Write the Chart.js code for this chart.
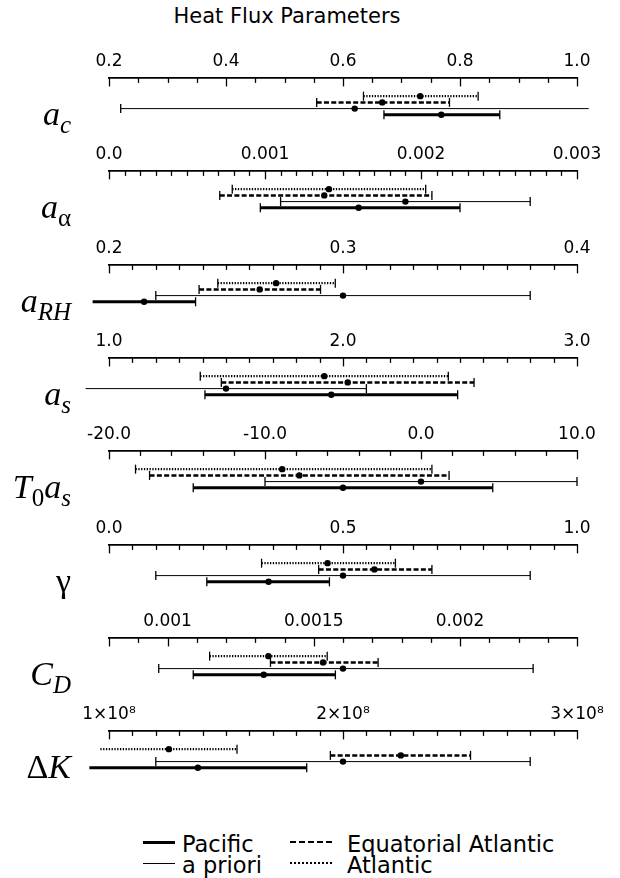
<!DOCTYPE html>
<html>
<head>
<meta charset="utf-8">
<script src="https://cdn.jsdelivr.net/npm/chart.js@4.4.1/dist/chart.umd.min.js"></script>
<style>
  body { margin: 0; background: #fff; }
  #wrap { position: relative; width: 620px; height: 878px; overflow: hidden; }
  #wrap canvas { position: absolute; left: 0; }
  .title { position: absolute; left: 137px; top: 4px; width: 300px; text-align: center;
           font: 21px "DejaVu Sans", sans-serif; white-space: nowrap; }
  .plabel { position: absolute; left: 0; width: 71px; height: 30px; line-height: 30px; text-align: right;
            font: italic 34px "Liberation Serif", serif; white-space: nowrap; }
  .plabel sub { font-size: 25px; vertical-align: -8px; line-height: 0; }
  .plabel .up { font-style: normal; }
  .legend .item { position: absolute; white-space: nowrap; height: 22px; line-height: 22px;
                  font: 22.5px "DejaVu Sans", sans-serif; }
  .legend .sw { position: absolute; top: 11px; height: 0; }
</style>
</head>
<body>
<div id="wrap">
  <div class="title">Heat Flux Parameters</div>
</div>
<script>
// parameters (one panel each)
const paramLabels = [
  'a<sub>c</sub>',
  'a<sub class="up">&alpha;</sub>',
  'a<sub>RH</sub>',
  'a<sub>s</sub>',
  'T<sub class="up">0</sub>a<sub>s</sub>',
  '<span class="up">&gamma;</span>',
  'C<sub>D</sub>',
  '<span class="up">&Delta;</span>K'
];

// axis ranges and ticks
const axisMin = [0.2, 0.0, 0.2, 1.0, -20, 0.0, 0.0008, 1e8];
const axisMax = [1.0, 0.003, 0.4, 3.0, 10, 1.0, 0.0024, 3e8];
const tickStep = [0.05, 0.0001, 0.01, 0.1, 2, 0.05, 0.0001, 1e7];
const tickValues = [
  [0.2, 0.4, 0.6, 0.8, 1.0],
  [0, 0.001, 0.002, 0.003],
  [0.2, 0.3, 0.4],
  [1, 2, 3],
  [-20, -10, 0, 10],
  [0, 0.5, 1],
  [0.001, 0.0015, 0.002],
  [1e8, 2e8, 3e8]
];
const tickTexts = [
  ['0.2', '0.4', '0.6', '0.8', '1.0'],
  ['0.0', '0.001', '0.002', '0.003'],
  ['0.2', '0.3', '0.4'],
  ['1.0', '2.0', '3.0'],
  ['-20.0', '-10.0', '0.0', '10.0'],
  ['0.0', '0.5', '1.0'],
  ['0.001', '0.0015', '0.002'],
  ['1×10⁸', '2×10⁸', '3×10⁸']
];

// Atlantic
const atlLo  = [0.635, 0.00079, 0.2465, 1.39, -18.3, 0.326, 0.001144, 0.963e8];
const atlMid = [0.732, 0.00141, 0.2714, 1.92, -8.9, 0.467, 0.001345, 1.256e8];
const atlHi  = [0.831, 0.00203, 0.2967, 2.45, 0.7, 0.612, 0.001546, 1.547e8];
// Equatorial Atlantic
const eqLo  = [0.555, 0.00071, 0.2385, 1.48, -17.4, 0.448, 0.001352, 1.946e8];
const eqMid = [0.667, 0.00138, 0.2644, 2.02, -7.8, 0.567, 0.001532, 2.247e8];
const eqHi  = [0.782, 0.00207, 0.2904, 2.56, 1.8, 0.690, 0.00172, 2.545e8];
// a priori
const priLo  = [0.22, 0.0011, 0.22, 0.9, -10, 0.1, 0.00097, 1.2e8];
const priMid = [0.62, 0.0019, 0.30, 1.5, 0, 0.5, 0.0016, 2.0e8];
const priHi  = [1.02, 0.0027, 0.38, 2.1, 10, 0.9, 0.00225, 2.8e8];
// Pacific
const pacLo  = [0.670, 0.00097, 0.193, 1.41, -14.6, 0.209, 0.001088, 0.916e8];
const pacMid = [0.768, 0.0016, 0.215, 1.95, -5.0, 0.341, 0.001329, 1.38e8];
const pacHi  = [0.868, 0.00225, 0.237, 2.49, 4.6, 0.471, 0.001574, 1.845e8];

const series = [
  { name: 'Atlantic', lo: atlLo, mid: atlMid, hi: atlHi, width: 2.3, dash: [1.3, 1.5] },
  { name: 'Equatorial Atlantic', lo: eqLo, mid: eqMid, hi: eqHi, width: 2.5, dash: [5, 2.3] },
  { name: 'a priori', lo: priLo, mid: priMid, hi: priHi, width: 1, dash: [] },
  { name: 'Pacific', lo: pacLo, mid: pacMid, hi: pacHi, width: 3, dash: [] }
];

const wrap = document.getElementById('wrap');
const firstAxisY = 77;
const panelGap = 93.3;
const tickFont = 17;
const tickPad = 6;
// height taken by the top axis labels (chart.js uses padding twice)
const headroom = Math.round(tickFont * 1.2 + tickPad * 2);

// tick marks pointing down from the axis line
const innerTicks = {
  id: 'innerTicks',
  afterDraw(chart) {
    const s = chart.scales.x;
    const ctx = chart.ctx;
    const top = chart.chartArea.top;
    ctx.save();
    ctx.strokeStyle = '#000';
    ctx.lineWidth = 1.3;
    s.ticks.forEach(t => {
      const px = Math.round(s.getPixelForValue(t.value)) + 0.5;
      ctx.beginPath();
      ctx.moveTo(px, top);
      ctx.lineTo(px, top + (t.long ? 9 : 5.5));
      ctx.stroke();
    });
    ctx.restore();
  }
};

paramLabels.forEach((label, i) => {
  const axisY = Math.round(firstAxisY + i * panelGap);

  const canvas = document.createElement('canvas');
  canvas.width = 620;
  canvas.height = headroom + 63;
  canvas.style.top = (axisY - headroom) + 'px';
  wrap.appendChild(canvas);

  const lab = document.createElement('div');
  lab.className = 'plabel';
  lab.style.top = (axisY + 18) + 'px';
  lab.innerHTML = label;
  wrap.appendChild(lab);

  const datasets = series.map((s, row) => ({
    label: s.name,
    data: [{ x: s.lo[i], y: row }, { x: s.mid[i], y: row }, { x: s.hi[i], y: row }],
    borderColor: '#000',
    backgroundColor: '#000',
    borderWidth: s.width,
    borderDash: s.dash,
    pointStyle: c => c.dataIndex === 1 ? 'circle' : 'line',
    pointRotation: c => c.dataIndex === 1 ? 0 : 90,
    pointRadius: c => c.dataIndex === 1 ? 3.2 : 4.5,
    pointBorderWidth: c => c.dataIndex === 1 ? 0 : 1.3,
    pointBackgroundColor: '#000',
    pointBorderColor: '#000',
    clip: false
  }));

  new Chart(canvas, {
    type: 'line',
    data: { datasets },
    options: {
      responsive: false,
      animation: false,
      events: [],
      devicePixelRatio: 1,
      layout: { padding: { left: 109, right: 43, top: 0, bottom: 0 } },
      plugins: { legend: { display: false }, tooltip: { enabled: false } },
      scales: {
        x: {
          type: 'linear',
          position: 'top',
          min: axisMin[i],
          max: axisMax[i],
          afterBuildTicks: scale => {
            const n = Math.round((axisMax[i] - axisMin[i]) / tickStep[i]);
            const ticks = [];
            for (let k = 0; k <= n; k++) {
              const v = axisMin[i] + k * tickStep[i];
              const labelled = tickValues[i].some(t => Math.abs(t - v) < tickStep[i] * 0.01);
              ticks.push({ value: v, long: labelled || k === 0 || k === n });
            }
            scale.ticks = ticks;
          },
          grid: { display: false, drawTicks: false },
          border: { display: true, color: '#000', width: 1.8 },
          ticks: {
            autoSkip: false,
            maxRotation: 0,
            padding: tickPad,
            color: '#000',
            font: { family: 'DejaVu Sans', size: tickFont },
            callback: value => {
              const j = tickValues[i].findIndex(t => Math.abs(t - value) < tickStep[i] * 0.01);
              return j >= 0 ? tickTexts[i][j] : '';
            }
          }
        },
        y: { type: 'linear', display: false, reverse: true, min: -3.02, max: 6.12 }
      }
    },
    plugins: [innerTicks]
  });
});

// legend
const legendItems = [
  { name: 'Pacific', x: 143, y: 831, w: 32, pad: 39, border: '3px solid' },
  { name: 'a priori', x: 143, y: 852, w: 32, pad: 39, border: '1px solid' },
  { name: 'Equatorial Atlantic', x: 290, y: 831, w: 42, pad: 57, border: '2.5px dashed' },
  { name: 'Atlantic', x: 290, y: 852, w: 42, pad: 57, border: '2px dotted' }
];
const legend = document.createElement('div');
legend.className = 'legend';
legendItems.forEach(it => {
  const d = document.createElement('div');
  d.className = 'item';
  d.style.left = it.x + 'px';
  d.style.top = it.y + 'px';
  d.style.paddingLeft = it.pad + 'px';
  d.innerHTML = '<span class="sw" style="left:0;width:' + it.w + 'px;border-top:' + it.border +
    ' #000;margin-top:-' + (parseFloat(it.border) / 2) + 'px"></span>' + it.name;
  legend.appendChild(d);
});
wrap.appendChild(legend);
</script>
</body>
</html>
